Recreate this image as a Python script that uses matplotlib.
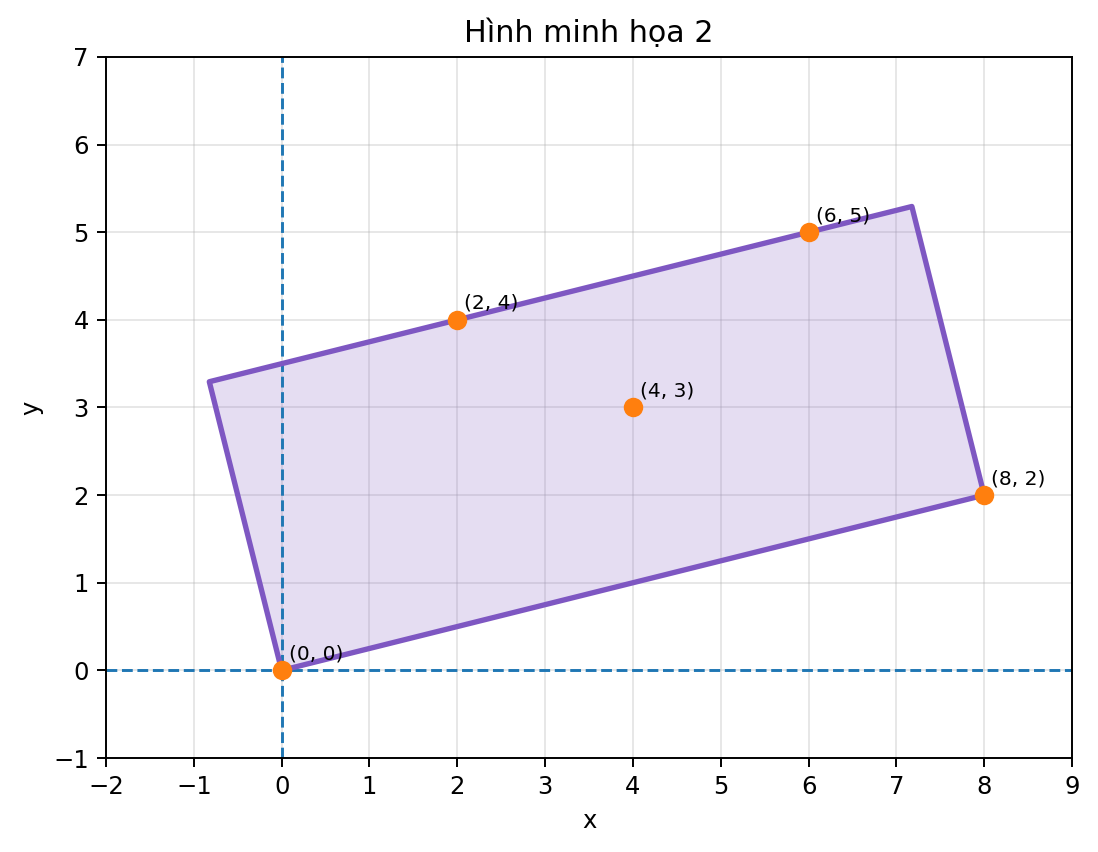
import numpy as np
import matplotlib
matplotlib.use("Agg")
import matplotlib.pyplot as plt
from matplotlib.patches import Polygon

# rectangle corners and marked points
rect_x = [0, 8, 8 - 14 / 17, -14 / 17]
rect_y = [0, 2, 2 + 56 / 17, 56 / 17]
pts_x = [0, 2, 4, 6, 8]
pts_y = [0, 4, 3, 5, 2]
pt_labels = ["(0, 0)", "(2, 4)", "(4, 3)", "(6, 5)", "(8, 2)"]

dpi = 175
fig = plt.figure(figsize=(1098 / dpi, 852 / dpi), dpi=dpi)
ax = fig.add_axes([106 / 1098, 1 - 758 / 852, 966 / 1098, 701 / 852])

poly = Polygon(np.column_stack([rect_x, rect_y]), closed=True,
               facecolor="#7e57c2", alpha=0.2, edgecolor="none")
ax.add_patch(poly)
ax.plot(rect_x + rect_x[:1], rect_y + rect_y[:1], color="#7e57c2", lw=2.2, zorder=3)

ax.axhline(0, color="C0", ls="--", lw=1.2, zorder=2)
ax.axvline(0, color="C0", ls="--", lw=1.2, zorder=2)

ax.plot(pts_x, pts_y, "o", color="C1", ms=7, zorder=4)
for x, y, s in zip(pts_x, pts_y, pt_labels):
    ax.text(x + 0.08, y + 0.08, s, fontsize=8.3, va="bottom")

ax.set_xlim(-2, 9)
ax.set_ylim(-1, 7)
ax.set_xticks(range(-2, 10))
ax.set_yticks(range(-1, 8))
ax.grid(True, alpha=0.3)
ax.set_axisbelow(True)
ax.set_xlabel("x")
ax.set_ylabel("y")
ax.set_title("Hình minh họa 2", fontsize=12.4)

fig.savefig("out.png", dpi=dpi)
